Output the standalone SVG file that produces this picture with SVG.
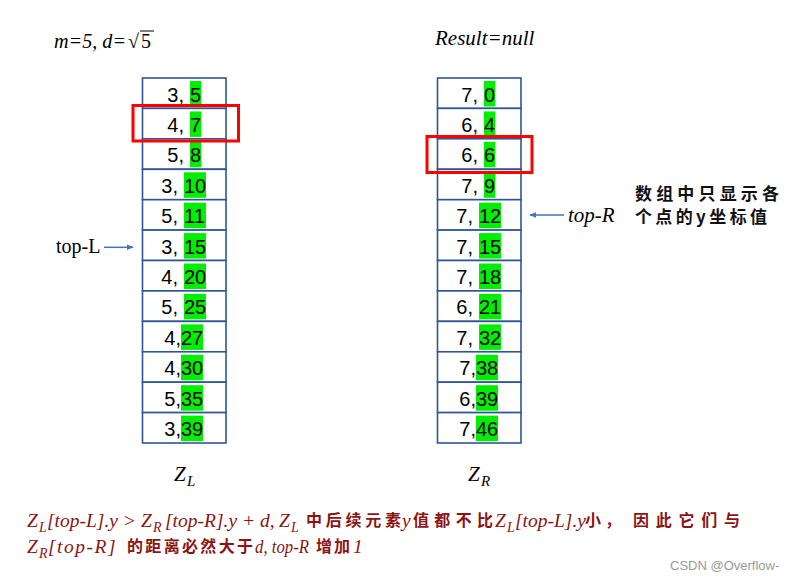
<svg xmlns="http://www.w3.org/2000/svg" width="802" height="580" viewBox="0 0 802 580">
<style>
.cell{fill:#fff;stroke:#2F5597;stroke-width:1.6}
.hl{fill:#00EE00}
.num{font-family:"Liberation Sans",Arial,sans-serif;font-size:20px;fill:#000}
.pre{text-anchor:end}
.ti{font-family:"Liberation Serif","Times New Roman",serif;font-style:italic;font-size:21px;fill:#000}
.tr{font-family:"Liberation Serif","Times New Roman",serif;font-size:20px;fill:#000}
.red{fill:none;stroke:#FF0000;stroke-width:3}
.cn{font-family:"Noto Sans CJK SC","Noto Sans CJK JP",sans-serif;font-size:17px;font-weight:700;fill:#111}
.bl{font-family:"Liberation Serif","Times New Roman",serif;font-style:italic;font-size:19.5px;fill:#8B1414}
.sub{font-size:14px}
.zs{font-size:15px}
.bc{font-family:"Noto Sans CJK SC","Noto Sans CJK JP",sans-serif;font-size:16px;font-weight:700;fill:#8B1414}
.conn{stroke:#4472C4;stroke-width:1.5;fill:none}
</style>
<defs>
<marker id="ah" viewBox="0 0 10 10" refX="9" refY="5" markerWidth="7" markerHeight="7" orient="auto-start-reverse" markerUnits="userSpaceOnUse">
<path d="M0,1 L10,5 L0,9 z" fill="#4472C4"/>
</marker>
</defs>
<rect width="802" height="580" fill="#fff"/>

<text class="ti" x="54" y="48" textLength="72" lengthAdjust="spacingAndGlyphs">m=5, d=</text>
<text class="tr" x="128" y="48" font-size="21">√</text>
<text class="tr" x="141" y="48" font-size="21">5</text>
<line x1="140" y1="31" x2="154" y2="31" stroke="#000" stroke-width="1"/>
<text class="ti" x="435" y="45">Result=null</text>

<g id="tableL">
<g id="L0"><rect class="cell" x="142.5" y="78" width="83.5" height="30.4"/><rect class="hl" x="190" y="81" width="11.3" height="25.5"/><text class="num pre" x="184" y="101.5">3,</text><text class="num" x="190" y="101.5">5</text></g>
<g id="L1"><rect class="cell" x="142.5" y="108.4" width="83.5" height="30.4"/><rect class="hl" x="190" y="111.4" width="11.3" height="25.5"/><text class="num pre" x="184" y="131.9">4,</text><text class="num" x="190" y="131.9">7</text></g>
<g id="L2"><rect class="cell" x="142.5" y="138.8" width="83.5" height="30.4"/><rect class="hl" x="190" y="141.8" width="11.3" height="25.5"/><text class="num pre" x="184" y="162.3">5,</text><text class="num" x="190" y="162.3">8</text></g>
<g id="L3"><rect class="cell" x="142.5" y="169.3" width="83.5" height="30.4"/><rect class="hl" x="184" y="172.3" width="22" height="25.5"/><text class="num pre" x="178" y="192.8">3,</text><text class="num" x="184" y="192.8">10</text></g>
<g id="L4"><rect class="cell" x="142.5" y="199.7" width="83.5" height="30.4"/><rect class="hl" x="184" y="202.7" width="22" height="25.5"/><text class="num pre" x="178" y="223.2">5,</text><text class="num" x="184" y="223.2">11</text></g>
<g id="L5"><rect class="cell" x="142.5" y="230.1" width="83.5" height="30.4"/><rect class="hl" x="184" y="233.1" width="22" height="25.5"/><text class="num pre" x="178" y="253.6">3,</text><text class="num" x="184" y="253.6">15</text></g>
<g id="L6"><rect class="cell" x="142.5" y="260.5" width="83.5" height="30.4"/><rect class="hl" x="184" y="263.5" width="22" height="25.5"/><text class="num pre" x="178" y="284">4,</text><text class="num" x="184" y="284">20</text></g>
<g id="L7"><rect class="cell" x="142.5" y="290.9" width="83.5" height="30.4"/><rect class="hl" x="184" y="293.9" width="22" height="25.5"/><text class="num pre" x="178" y="314.4">5,</text><text class="num" x="184" y="314.4">25</text></g>
<g id="L8"><rect class="cell" x="142.5" y="321.4" width="83.5" height="30.4"/><rect class="hl" x="181" y="324.4" width="22" height="25.5"/><text class="num pre" x="181" y="344.9">4,</text><text class="num" x="181" y="344.9">27</text></g>
<g id="L9"><rect class="cell" x="142.5" y="351.8" width="83.5" height="30.4"/><rect class="hl" x="181" y="354.8" width="22" height="25.5"/><text class="num pre" x="181" y="375.3">4,</text><text class="num" x="181" y="375.3">30</text></g>
<g id="L10"><rect class="cell" x="142.5" y="382.2" width="83.5" height="30.4"/><rect class="hl" x="181" y="385.2" width="22" height="25.5"/><text class="num pre" x="181" y="405.7">5,</text><text class="num" x="181" y="405.7">35</text></g>
<g id="L11"><rect class="cell" x="142.5" y="412.6" width="83.5" height="30.4"/><rect class="hl" x="181" y="415.6" width="22" height="25.5"/><text class="num pre" x="181" y="436.1">3,</text><text class="num" x="181" y="436.1">39</text></g>
</g>

<g id="tableR">
<g id="R0"><rect class="cell" x="437.5" y="78" width="83.5" height="30.4"/><rect class="hl" x="484" y="81" width="11.3" height="25.5"/><text class="num pre" x="478" y="101.5">7,</text><text class="num" x="484" y="101.5">0</text></g>
<g id="R1"><rect class="cell" x="437.5" y="108.4" width="83.5" height="30.4"/><rect class="hl" x="484" y="111.4" width="11.3" height="25.5"/><text class="num pre" x="478" y="131.9">6,</text><text class="num" x="484" y="131.9">4</text></g>
<g id="R2"><rect class="cell" x="437.5" y="138.8" width="83.5" height="30.4"/><rect class="hl" x="484" y="141.8" width="11.3" height="25.5"/><text class="num pre" x="478" y="162.3">6,</text><text class="num" x="484" y="162.3">6</text></g>
<g id="R3"><rect class="cell" x="437.5" y="169.3" width="83.5" height="30.4"/><rect class="hl" x="484" y="172.3" width="11.3" height="25.5"/><text class="num pre" x="478" y="192.8">7,</text><text class="num" x="484" y="192.8">9</text></g>
<g id="R4"><rect class="cell" x="437.5" y="199.7" width="83.5" height="30.4"/><rect class="hl" x="479" y="202.7" width="22" height="25.5"/><text class="num pre" x="473" y="223.2">7,</text><text class="num" x="479" y="223.2">12</text></g>
<g id="R5"><rect class="cell" x="437.5" y="230.1" width="83.5" height="30.4"/><rect class="hl" x="479" y="233.1" width="22" height="25.5"/><text class="num pre" x="473" y="253.6">7,</text><text class="num" x="479" y="253.6">15</text></g>
<g id="R6"><rect class="cell" x="437.5" y="260.5" width="83.5" height="30.4"/><rect class="hl" x="479" y="263.5" width="22" height="25.5"/><text class="num pre" x="473" y="284">7,</text><text class="num" x="479" y="284">18</text></g>
<g id="R7"><rect class="cell" x="437.5" y="290.9" width="83.5" height="30.4"/><rect class="hl" x="479" y="293.9" width="22" height="25.5"/><text class="num pre" x="473" y="314.4">6,</text><text class="num" x="479" y="314.4">21</text></g>
<g id="R8"><rect class="cell" x="437.5" y="321.4" width="83.5" height="30.4"/><rect class="hl" x="479" y="324.4" width="22" height="25.5"/><text class="num pre" x="473" y="344.9">7,</text><text class="num" x="479" y="344.9">32</text></g>
<g id="R9"><rect class="cell" x="437.5" y="351.8" width="83.5" height="30.4"/><rect class="hl" x="476" y="354.8" width="22" height="25.5"/><text class="num pre" x="476" y="375.3">7,</text><text class="num" x="476" y="375.3">38</text></g>
<g id="R10"><rect class="cell" x="437.5" y="382.2" width="83.5" height="30.4"/><rect class="hl" x="476" y="385.2" width="22" height="25.5"/><text class="num pre" x="476" y="405.7">6,</text><text class="num" x="476" y="405.7">39</text></g>
<g id="R11"><rect class="cell" x="437.5" y="412.6" width="83.5" height="30.4"/><rect class="hl" x="476" y="415.6" width="22" height="25.5"/><text class="num pre" x="476" y="436.1">7,</text><text class="num" x="476" y="436.1">46</text></g>
</g>

<g id="highlights">
<rect class="red" x="133" y="105.5" width="105.5" height="35.5"/>
<rect class="red" x="427" y="136.5" width="105" height="36"/>
</g>

<g id="labelTopL"><text class="tr" x="56" y="253">top-L</text></g>
<g id="labelTopR"><text class="ti" x="568" y="222">top-R</text></g>

<g id="connectors">
<line class="conn" x1="104" y1="247.3" x2="133" y2="247.3" marker-end="url(#ah)"/>
<line class="conn" x1="564" y1="215" x2="530" y2="215" marker-end="url(#ah)"/>
</g>

<g id="note">
<text class="cn" x="635" y="200" textLength="144" lengthAdjust="spacing">数组中只显示各</text>
<text class="cn" x="635" y="223" textLength="132" lengthAdjust="spacing">个点的y坐标值</text>
</g>

<text class="ti" y="481"><tspan x="174">Z</tspan><tspan class="zs" x="187" dy="5">L</tspan></text>
<text class="ti" y="481"><tspan x="468">Z</tspan><tspan class="zs" x="481" dy="5">R</tspan></text>

<g id="caption">
<text class="bl" y="527"><tspan x="27">Z</tspan><tspan class="sub" x="39" dy="5">L</tspan><tspan x="47" dy="-5">[top-L].y &gt; </tspan><tspan x="141">Z</tspan><tspan class="sub" x="153" dy="5">R</tspan><tspan x="165" dy="-5">[top-R].y + d, </tspan><tspan x="279">Z</tspan><tspan class="sub" x="291" dy="5">L</tspan></text>
<text class="bc" x="306" y="526" textLength="95" lengthAdjust="spacing">中后续元素</text>
<text class="bl" x="402" y="527">y</text>
<text class="bc" x="413" y="526" textLength="80" lengthAdjust="spacing">值都不比</text>
<text class="bl" y="527"><tspan x="495">Z</tspan><tspan class="sub" x="507" dy="5">L</tspan><tspan x="515" dy="-5">[top-L].y</tspan></text>
<text class="bc" x="585" y="526" textLength="36" lengthAdjust="spacing">小，</text>
<text class="bc" x="633" y="526" textLength="107" lengthAdjust="spacing">因此它们与</text>
<text class="bl" y="553"><tspan x="27">Z</tspan><tspan class="sub" x="39" dy="5">R</tspan><tspan x="48" dy="-5" letter-spacing="1.5">[top-R]</tspan></text>
<text class="bc" x="127" y="552" textLength="126" lengthAdjust="spacing">的距离必然大于</text>
<text class="bl" x="255" y="553" textLength="54" lengthAdjust="spacingAndGlyphs">d, top-R</text>
<text class="bc" x="316" y="552" textLength="34" lengthAdjust="spacing">增加</text>
<text class="bl" x="353" y="553" font-style="normal">1</text>
</g>

<text x="670" y="570" font-family="'Liberation Sans',Arial,sans-serif" font-size="13" fill="#999">CSDN @Overflow-</text>
</svg>
